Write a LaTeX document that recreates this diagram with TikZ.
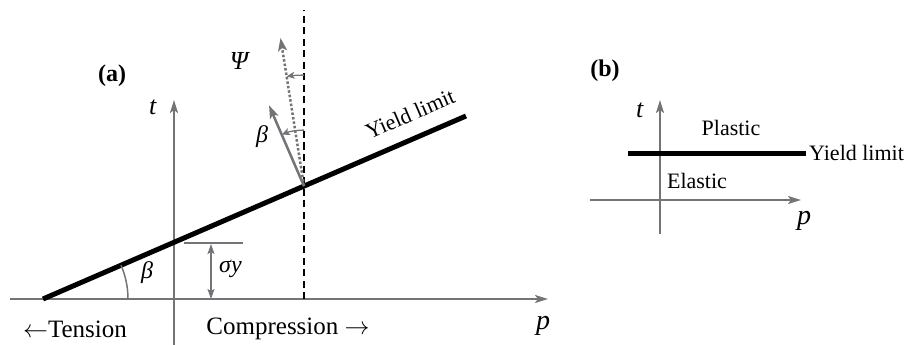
\documentclass[tikz,border=0pt]{standalone}
\usepackage{fontspec}
\setmainfont{Liberation Serif}
\usetikzlibrary{arrows.meta,calc}
\definecolor{axgray}{RGB}{115,115,120}
\tikzset{
  axis/.style={draw=axgray, line width=2pt, -{Stealth[length=13pt,width=8pt,inset=3pt]}},
  axisplain/.style={draw=axgray, line width=2pt},
  yieldline/.style={draw=black, line width=5pt},
  garrow/.style={draw=axgray, line width=2.5pt, -{Stealth[length=13pt,width=9pt,inset=3pt]}},
  gdotted/.style={draw=axgray, line width=2.5pt, dash pattern=on 2.5pt off 2pt, -{Stealth[length=13pt,width=9pt,inset=3pt]}},
  smallarc/.style={draw=axgray, line width=1.3pt, -{Stealth[length=8pt,width=7pt,inset=2pt]}},
  lbl/.style={inner sep=0pt, font=\fontsize{24}{26}\selectfont},
  smalllbl/.style={inner sep=0pt, font=\fontsize{22}{24}\selectfont},
  biglbl/.style={inner sep=0pt, font=\fontsize{26}{28}\selectfont},
  panel/.style={inner sep=0pt, font=\fontsize{24}{26}\selectfont\bfseries},
}
\begin{document}
\begin{tikzpicture}[x=1pt,y=-1pt]
\useasboundingbox (0,0) rectangle (906,345);
% ---------- (a) ----------
\coordinate (hl) at (10,299);
\coordinate (hr) at (548,299);
\coordinate (vb) at (174,345);
\coordinate (vt) at (174,100);
\draw[axis] (hl) -- (hr);
\draw[axis] (vb) -- (vt);
\coordinate (y0) at (43,299);
\coordinate (y1) at (466,116);
\coordinate (P) at (304,186.1);
\coordinate (dtop) at (304,10);
\coordinate (dbot) at (304,299);
\draw[black, line width=2pt, dash pattern=on 7pt off 4.5pt] (dbot) -- (dtop);
\draw[yieldline] (y0) -- (y1);
% sigma_y
\coordinate (s1) at (184,243);
\coordinate (s2) at (243,243);
\draw[axisplain, line width=1.5pt] (s1) -- (s2);
\coordinate (sa) at (211,244);
\coordinate (sb) at (211,299);
\draw[draw=axgray, line width=1.5pt, {Stealth[length=10pt,width=7pt,inset=2pt]}-{Stealth[length=10pt,width=7pt,inset=2pt]}] (sa) -- (sb);
\node[lbl, anchor=west] (sig) at (219,269) {\textit{σy}};
% beta arc at origin
\draw[axgray, line width=1.5pt] ($(y0)+(85,0)$) arc[start angle=0, end angle=-23.4, radius=85];
\node[lbl] (b1) at (147,273) {\textit{β}};
% normal and dilatancy arrows
\coordinate (N) at ($(P)+(-113.4:88)$);
\coordinate (D) at ($(P)+(-99:150)$);
\draw[gdotted] (P) -- (D);
\draw[garrow] (P) -- (N);
\draw[smallarc] ($(P)+(-90:56)$) arc[start angle=-90, end angle=-113.4, radius=56];
\draw[smallarc] ($(P)+(-90:111)$) arc[start angle=-90, end angle=-99, radius=111];
\node[lbl] (b2) at (262,137) {\textit{β}};
\node[biglbl] (psi) at (240,61) {\textit{Ψ}};
% labels
\node[smalllbl, rotate=23.4] (yl) at (410,114) {Yield limit};
\node[panel] (a) at (112,76) {(a)};
\node[biglbl] (ta) at (153,107) {\textit{t}};
\node[biglbl, font=\fontsize{28}{30}\selectfont] (pa) at (543,326) {\textit{p}};
\node[lbl, font=\fontsize{25}{27}\selectfont] (ten) at (75,329) {$\leftarrow$Tension};
\node[lbl, font=\fontsize{25}{27}\selectfont] (comp) at (288,329) {Compression $\rightarrow$};
% ---------- (b) ----------
\coordinate (bhl) at (590,200);
\coordinate (bhr) at (801,200);
\coordinate (bvb) at (660,234);
\coordinate (bvt) at (660,100);
\draw[axis] (bhl) -- (bhr);
\draw[axis] (bvb) -- (bvt);
\coordinate (bl0) at (628,153.5);
\coordinate (bl1) at (806,153.5);
\draw[yieldline] (bl0) -- (bl1);
\node[smalllbl, anchor=west] (ylb) at (809,153) {Yield limit};
\node[smalllbl] (pl) at (731,128) {Plastic};
\node[smalllbl] (el) at (697,181) {Elastic};
\node[biglbl] (tb) at (640,110) {\textit{t}};
\node[biglbl, font=\fontsize{28}{30}\selectfont] (pb) at (804,221) {\textit{p}};
\node[panel] (bb) at (605,71) {(b)};
\end{tikzpicture}
\end{document}
